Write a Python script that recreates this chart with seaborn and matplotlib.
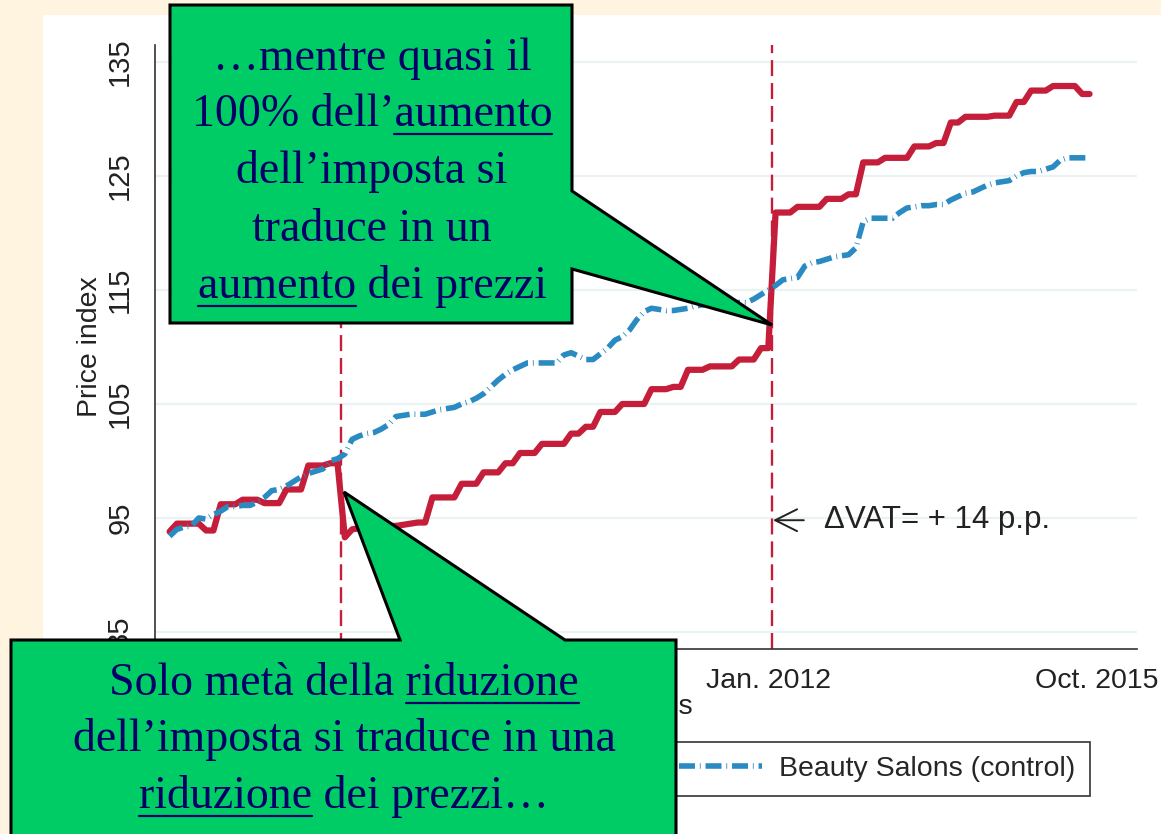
import numpy as np
import pandas as pd
import matplotlib
matplotlib.use("Agg")
import matplotlib.pyplot as plt
import seaborn as sns
from matplotlib.patches import Polygon, Rectangle
from matplotlib.lines import Line2D

# ============================
# Data (month index: 0 = Jan. 2005)
# ============================
months = list(range(2, 129))

hairdressers = [
    93.8, 94.5, 94.5, 94.5, 94.5, 93.9, 93.9, 96.2, 96.2, 96.2,
    96.6, 96.6, 96.6, 96.3, 96.3, 96.3, 97.5, 97.5, 97.5, 99.6,
    99.6, 99.6, 99.8, 99.8, 93.3, 94.0, 94.1, 94.1, 94.2, 94.2,
    94.3, 94.3, 94.4, 94.5, 94.6, 94.6, 96.8, 96.8, 96.8, 96.8,
    98.0, 98.0, 98.0, 99.0, 99.0, 99.0, 99.8, 99.8, 100.7, 100.7,
    100.7, 101.5, 101.5, 101.5, 101.5, 102.4, 102.4, 103.0, 103.0, 104.3,
    104.3, 104.3, 105.0, 105.0, 105.0, 105.0, 106.3, 106.3, 106.3, 106.5,
    106.5, 108.0, 108.0, 108.0, 108.3, 108.3, 108.3, 108.3, 108.9, 108.9,
    108.9, 109.9, 109.9, 121.8, 121.8, 121.8, 122.3, 122.3, 122.3, 122.3,
    123.0, 123.0, 123.0, 123.4, 123.4, 126.2, 126.2, 126.2, 126.6, 126.6,
    126.6, 126.6, 127.6, 127.6, 127.6, 127.9, 127.9, 129.7, 129.7, 130.2,
    130.2, 130.2, 130.2, 130.3, 130.3, 130.3, 131.5, 131.5, 132.5, 132.5,
    132.5, 132.9, 132.9, 132.9, 132.9, 132.2, 132.2,
]

beauty_salons = [
    93.4, 94.0, 94.2, 94.3, 95.0, 94.9, 95.3, 95.6, 96.0, 96.0,
    96.1, 96.1, 96.4, 96.8, 97.4, 97.5, 97.8, 98.2, 98.6, 98.9,
    99.1, 99.3, 100.0, 100.2, 100.6, 101.9, 102.2, 102.4, 102.5, 102.8,
    103.2, 103.9, 104.0, 104.1, 104.1, 104.1, 104.3, 104.5, 104.6, 104.7,
    105.0, 105.2, 105.5, 105.9, 106.5, 107.1, 107.6, 108.0, 108.3, 108.6,
    108.6, 108.6, 108.6, 108.6, 109.3, 109.5, 109.2, 108.9, 108.9, 109.4,
    109.9, 110.6, 110.9, 111.5, 112.4, 113.1, 113.4, 113.3, 113.2, 113.2,
    113.3, 113.4, 113.6, 113.7, 113.8, 113.9, 113.9, 113.9, 113.9, 113.9,
    114.2, 114.6, 115.0, 115.4, 115.9, 116.0, 116.1, 117.1, 117.4, 117.5,
    117.7, 117.9, 118.0, 118.1, 118.7, 121.0, 121.3, 121.3, 121.3, 121.3,
    121.8, 122.2, 122.3, 122.4, 122.4, 122.5, 122.5, 122.9, 123.2, 123.5,
    123.6, 123.9, 124.2, 124.4, 124.5, 124.6, 125.0, 125.3, 125.4, 125.4,
    125.6, 125.8, 126.4, 126.6, 126.6, 126.6, 126.6,
]

series_names = ["Hairdressers (treatment)", "Beauty Salons (control)"]
vat_change_months = [25.5, 84.5]
x_tick_months = [24, 84, 129]
x_tick_labels = ["Jan. 2007", "Jan. 2012", "Oct. 2015"]
y_ticks = [85, 95, 105, 115, 125, 135]

df = pd.DataFrame({
    "month": months * 2,
    "price": hairdressers + beauty_salons,
    "series": [series_names[0]] * len(months) + [series_names[1]] * len(months),
})

# ============================
# Style
# ============================
sns.set_theme(style="white")
plt.rcParams['font.family'] = ['Liberation Sans', 'DejaVu Sans']
plt.rcParams['lines.scale_dashes'] = False

RED = '#C41E3A'
BLUE = '#2A8BC2'
GREEN = '#00CC66'
NAVY = '#000066'
INK = '#222222'

W, H = 1161, 834
fig = plt.figure(figsize=(W / 100, H / 100), dpi=100, facecolor='#FFF4E0')


def fxy(x, y):
    return (x / W, 1 - y / H)


# white panel behind the graph
fig.add_artist(Rectangle(fxy(43, 834), (W - 43) / W, (834 - 15) / H,
                         transform=fig.transFigure, facecolor='white',
                         edgecolor='none', zorder=-1))

ax = fig.add_axes([155 / W, 1 - 649 / H, (1137 - 155) / W, (649 - 45) / H])
ax.set_facecolor('white')

sns.lineplot(data=df, x='month', y='price', hue='series', style='series',
             hue_order=series_names, style_order=series_names,
             palette={series_names[0]: RED, series_names[1]: BLUE},
             dashes={series_names[0]: "", series_names[1]: (11.5, 3.5, 0.6, 3.5)},
             linewidth=4.0, errorbar=None, ax=ax, zorder=3,
             solid_capstyle='round', solid_joinstyle='round')
ax.lines[0].set_linewidth(4.5)

for m in vat_change_months:
    ax.axvline(m, color=RED, lw=1.7, dashes=(11.5, 5), zorder=2)

ax.set_xlim(0, 134.5)
ax.set_ylim(83.5, 136.5)
ax.set_xticks(x_tick_months)
ax.set_xticklabels(x_tick_labels, fontsize=20.5, color=INK)
ax.set_yticks(y_ticks)
ax.set_yticklabels([str(v) for v in y_ticks], fontsize=21, color=INK,
                   rotation=90, va='center')
ax.tick_params(axis='both', direction='out', length=8, width=1.1, color='#333333')
ax.tick_params(axis='y', pad=7)
ax.tick_params(axis='x', pad=6)
ax.yaxis.grid(True, color='#EAF2F3', lw=1.6)
ax.xaxis.grid(False)
ax.set_axisbelow(True)
for side in ['top', 'right']:
    ax.spines[side].set_visible(False)
for side in ['left', 'bottom']:
    ax.spines[side].set_color('#333333')
    ax.spines[side].set_linewidth(1.2)

ax.set_ylabel('Price index', fontsize=20.5, color=INK, labelpad=2)
ax.set_xlabel('Months', fontsize=20.5, color=INK, labelpad=0)

ax.annotate('ΔVAT= + 14 p.p.', xy=(vat_change_months[1] + 0.15, 94.8),
            xytext=(91.6, 94.8), va='center', ha='left', fontsize=22.5,
            color=INK,
            arrowprops=dict(arrowstyle='->, head_length=0.7, head_width=0.35',
                            color=INK, lw=1.4, shrinkA=12, shrinkB=0))

handles, labels = ax.get_legend_handles_labels()
ax.legend(handles, labels, loc='upper center', ncol=2, fontsize=20.5,
          bbox_to_anchor=(638 / W, 1 - 742 / H), bbox_transform=fig.transFigure,
          borderaxespad=0, frameon=True, fancybox=False, edgecolor='#333333',
          framealpha=1, handlelength=2.9, handletextpad=0.6, columnspacing=2.5,
          borderpad=0.5)
ax.get_legend().get_frame().set_linewidth(1.2)

# ============================
# Callout boxes
# ============================
top_box = [(170, 5), (572, 5), (572, 191), (772, 325), (572, 269),
           (572, 323), (170, 323)]
bottom_box = [(11, 640), (400, 640), (344, 492), (565, 640), (676, 640),
              (676, 845), (11, 845)]
for verts in [top_box, bottom_box]:
    fig.add_artist(Polygon([fxy(x, y) for x, y in verts], closed=True,
                           transform=fig.transFigure, facecolor=GREEN,
                           edgecolor='black', lw=2.2, zorder=10))

top_lines = [
    ("…mentre quasi il", None, None),
    ("100% dell’aumento", "aumento", "end"),
    ("dell’imposta si", None, None),
    ("traduce in un", None, None),
    ("aumento dei prezzi", "aumento", "start"),
]
top_baselines = [70, 126, 183, 241, 298]
bottom_lines = [
    ("Solo metà della riduzione", "riduzione", "end"),
    ("dell’imposta si traduce in una", None, None),
    ("riduzione dei prezzi…", "riduzione", "start"),
]
bottom_baselines = [695, 751, 808]

serif = ['Liberation Serif', 'DejaVu Serif']
placed = []
for lines, baselines, xc in [(top_lines, top_baselines, 372),
                             (bottom_lines, bottom_baselines, 344)]:
    for (line, word, where), yb in zip(lines, baselines):
        t = fig.text(xc / W, 1 - yb / H, line, ha='center', va='baseline',
                     fontsize=33, family=serif, color=NAVY, zorder=12)
        placed.append((t, word, where, yb))

renderer = fig.canvas.get_renderer()
for t, word, where, yb in placed:
    if word is None:
        continue
    bb = t.get_window_extent(renderer)
    ww = renderer.get_text_width_height_descent(word, t.get_fontproperties(),
                                                ismath=False)[0]
    x0 = bb.x0 if where == 'start' else bb.x1 - ww
    yu = yb + 8
    fig.add_artist(Line2D([x0 / W, (x0 + ww) / W], [1 - yu / H, 1 - yu / H],
                          transform=fig.transFigure, color=NAVY, lw=1.6,
                          zorder=12))

fig.savefig('out.png', dpi=100, facecolor=fig.get_facecolor())
